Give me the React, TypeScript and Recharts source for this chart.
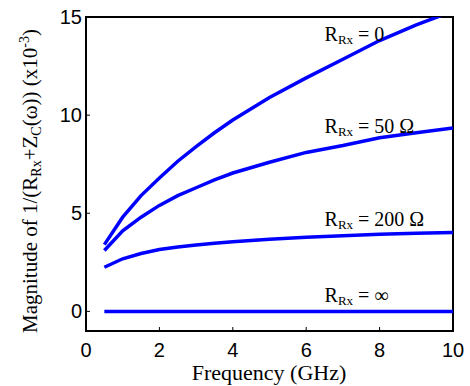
import { LineChart, Line, XAxis, YAxis, ReferenceDot, Customized } from 'recharts';

const FREQ = [0.5, 1, 1.5, 2, 2.5, 3, 3.5, 4, 5, 6, 7, 8, 9, 10];
const MAG_R0 = [3.4, 4.8, 5.9, 6.8, 7.65, 8.4, 9.1, 9.75, 10.9, 11.9, 12.85, 13.8, 14.6, 15.3];
const MAG_R50 = [3.1, 4.1, 4.8, 5.4, 5.9, 6.3, 6.7, 7.05, 7.6, 8.1, 8.45, 8.85, 9.1, 9.35];
const MAG_R200 = [2.25, 2.68, 2.95, 3.15, 3.28, 3.38, 3.47, 3.55, 3.67, 3.78, 3.85, 3.93, 3.98, 4.02];
const MAG_RINF = [0, 0, 0, 0, 0, 0, 0, 0, 0, 0, 0, 0, 0, 0];

const X_TICKS = [0, 2, 4, 6, 8, 10];
const Y_TICKS = [0, 5, 10, 15];

// curve labels: [text after subscript, x, y]
const LABELS: [string, number, number][] = [
  [' = 0', 6.5, 13.8],
  [' = 50 \u03A9', 6.5, 9.08],
  [' = 200 \u03A9', 6.5, 4.36],
  [' = \u221E', 6.5, 0.46],
];

const data = FREQ.map((f, i) => ({
  f,
  r0: MAG_R0[i],
  r50: MAG_R50[i],
  r200: MAG_R200[i],
  rinf: MAG_RINF[i],
}));

// plot box (matches margins + axis sizes below)
const W = 470;
const H = 386;
const M = { top: 17, right: 17, left: 26 };
const Y_AXIS_W = 60;
const X_AXIS_H = 55;

const BLUE = '#0000ff';
const SERIF = "'Liberation Serif', 'Times New Roman', 'DejaVu Serif', serif";
const SANS = "'Liberation Sans', Arial, sans-serif";
const tickStyle = { fill: '#000', fontSize: 20, fontFamily: SANS };
const axisLine = { stroke: '#000', strokeWidth: 2 };
const tickLine = { stroke: '#000', strokeWidth: 1 };

const CurveLabel = ({ cx, cy, rest }: any) => (
  <text x={cx} y={cy} fontFamily={SERIF} fontSize={20} fill="#000">
    R
    <tspan fontSize={13} dy={3}>Rx</tspan>
    <tspan dy={-3}>{rest}</tspan>
  </text>
);

// box outline + axis titles
const Decor = () => {
  const x0 = M.left + Y_AXIS_W;
  const y0 = M.top;
  const x1 = W - M.right;
  const y1 = H - X_AXIS_H;
  return (
    <g fill="#000" fontFamily={SERIF}>
      <rect x={x0} y={y0} width={x1 - x0} height={y1 - y0} fill="none" stroke="#000" strokeWidth={2} />
      <text x={269} y={380} fontSize={22} textAnchor="middle">
        Frequency (GHz)
      </text>
      <text x={37} y={181} fontSize={21} textAnchor="middle" transform="rotate(-90, 37, 181)">
        Magnitude of 1/(R
        <tspan fontSize={14} dy={4}>Rx</tspan>
        <tspan dy={-4}>+Z</tspan>
        <tspan fontSize={14} dy={4}>C</tspan>
        <tspan dy={-4}>({'\u03C9'})) (x10</tspan>
        <tspan fontSize={14} dy={-8}>-3</tspan>
        <tspan dy={8}>)</tspan>
      </text>
    </g>
  );
};

export default function App() {
  return (
    <div style={{ position: 'absolute', left: 0, top: 0, background: '#fff' }}>
      <LineChart
        width={W}
        height={H}
        data={data}
        margin={{ top: M.top - 1, right: M.right - 1, bottom: 0, left: M.left }}
      >
        <XAxis
          xAxisId="b"
          dataKey="f"
          type="number"
          domain={[0, 10]}
          ticks={X_TICKS}
          allowDataOverflow
          height={X_AXIS_H}
          tickSize={-4}
          tickMargin={16}
          tick={tickStyle}
          axisLine={axisLine}
          tickLine={tickLine}
        />
        <XAxis
          xAxisId="t"
          orientation="top"
          dataKey="f"
          type="number"
          domain={[0, 10]}
          ticks={X_TICKS}
          allowDataOverflow
          height={1}
          tickSize={-4}
          tick={false}
          axisLine={false}
          tickLine={tickLine}
        />
        <YAxis
          yAxisId="l"
          type="number"
          domain={[-1, 15]}
          ticks={Y_TICKS}
          allowDataOverflow
          width={Y_AXIS_W}
          tickSize={-4}
          tickMargin={8}
          tick={tickStyle}
          axisLine={axisLine}
          tickLine={tickLine}
        />
        <YAxis
          yAxisId="r"
          orientation="right"
          type="number"
          domain={[-1, 15]}
          ticks={Y_TICKS}
          allowDataOverflow
          width={1}
          tickSize={-4}
          tick={false}
          axisLine={false}
          tickLine={tickLine}
        />
        {(['r0', 'r50', 'r200'] as const).map((k) => (
          <Line
            key={k}
            xAxisId="b"
            yAxisId="l"
            dataKey={k}
            type="linear"
            stroke={BLUE}
            strokeWidth={3.5}
            dot={false}
            isAnimationActive={false}
          />
        ))}
        {/* same domains as b/l; bound to the mirrored axes so their ticks get drawn */}
        <Line
          xAxisId="t"
          yAxisId="r"
          dataKey="rinf"
          type="linear"
          stroke={BLUE}
          strokeWidth={3.5}
          dot={false}
          isAnimationActive={false}
        />
        {LABELS.map(([rest, x, y]) => (
          <ReferenceDot
            key={rest}
            xAxisId="b"
            yAxisId="l"
            x={x}
            y={y}
            r={0}
            shape={(p: any) => <CurveLabel cx={p.cx} cy={p.cy} rest={rest} />}
          />
        ))}
        <Customized component={Decor} />
      </LineChart>
    </div>
  );
}
